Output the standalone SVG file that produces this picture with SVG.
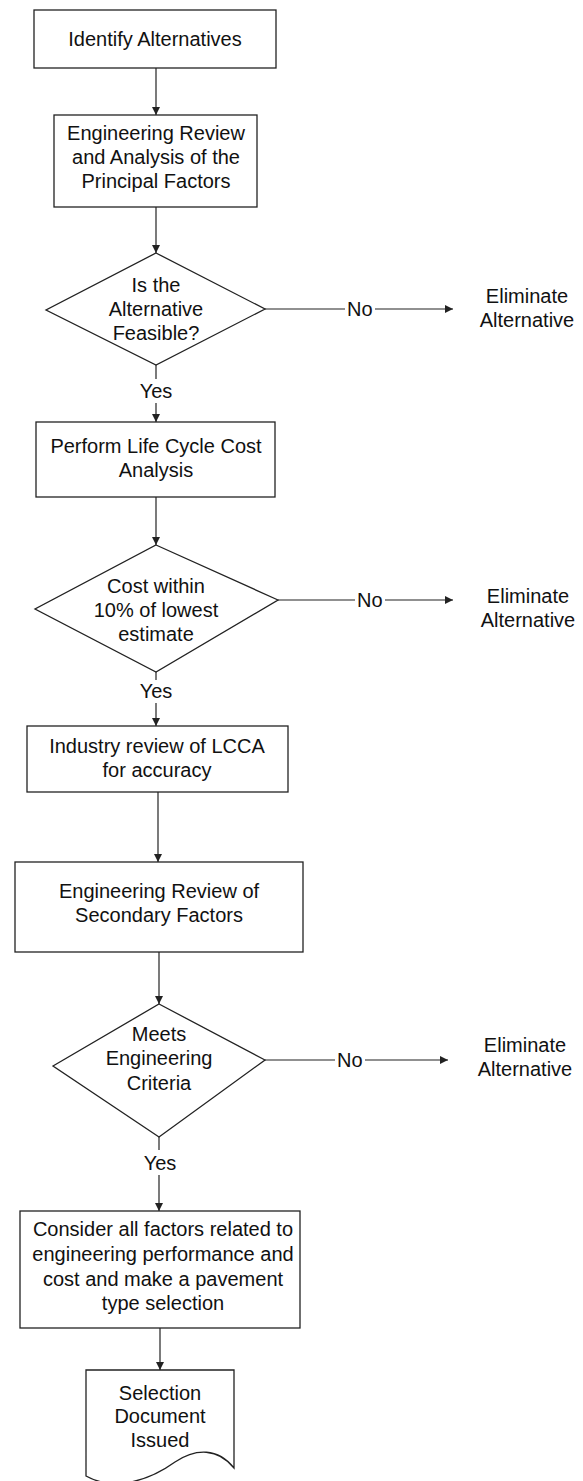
<svg xmlns="http://www.w3.org/2000/svg" width="583" height="1481" viewBox="0 0 583 1481">
  <style>
    .shape { fill: #fff; stroke: #222; stroke-width: 1.3; }
    .edge { fill: none; stroke: #222; stroke-width: 1.2; }
    text { font-family: "Liberation Sans", Arial, sans-serif; font-size: 20px; fill: #111; text-anchor: middle; }
    .lbl { text-anchor: start; }
  </style>
  <defs>
    <marker id="arrow" viewBox="0 0 10 10" refX="10" refY="5" markerWidth="9" markerHeight="8" markerUnits="userSpaceOnUse" orient="auto">
      <path d="M0,0 L10,5 L0,10 Z" fill="#222"/>
    </marker>
  </defs>
  <rect width="583" height="1481" fill="#fff"/>

  <g id="connectors">
    <line class="edge" x1="156" y1="68" x2="156" y2="115" marker-end="url(#arrow)"/>
    <line class="edge" x1="156" y1="207" x2="156" y2="253" marker-end="url(#arrow)"/>
    <line class="edge" x1="156" y1="365" x2="156" y2="379"/>
    <line class="edge" x1="156" y1="403" x2="156" y2="422" marker-end="url(#arrow)"/>
    <line class="edge" x1="265" y1="309" x2="345" y2="309"/>
    <line class="edge" x1="375" y1="309" x2="453" y2="309" marker-end="url(#arrow)"/>
    <line class="edge" x1="156" y1="497" x2="156" y2="545" marker-end="url(#arrow)"/>
    <line class="edge" x1="278" y1="600" x2="355" y2="600"/>
    <line class="edge" x1="385" y1="600" x2="453" y2="600" marker-end="url(#arrow)"/>
    <line class="edge" x1="156" y1="672" x2="156" y2="680"/>
    <line class="edge" x1="156" y1="703" x2="156" y2="726" marker-end="url(#arrow)"/>
    <line class="edge" x1="158" y1="792" x2="158" y2="862" marker-end="url(#arrow)"/>
    <line class="edge" x1="159" y1="952" x2="159" y2="1004" marker-end="url(#arrow)"/>
    <line class="edge" x1="265" y1="1060" x2="335" y2="1060"/>
    <line class="edge" x1="365" y1="1060" x2="448" y2="1060" marker-end="url(#arrow)"/>
    <line class="edge" x1="159" y1="1137" x2="159" y2="1150"/>
    <line class="edge" x1="159" y1="1175" x2="159" y2="1211" marker-end="url(#arrow)"/>
    <line class="edge" x1="160" y1="1328" x2="160" y2="1370" marker-end="url(#arrow)"/>
    <text x="156" y="398">Yes</text>
    <text class="lbl" x="347" y="316">No</text>
    <text x="156" y="698">Yes</text>
    <text class="lbl" x="357" y="607">No</text>
    <text x="160" y="1170">Yes</text>
    <text class="lbl" x="337" y="1067">No</text>
  </g>

  <g id="identify">
    <rect class="shape" x="34" y="10" width="242" height="58"/>
    <text x="155" y="46">Identify Alternatives</text>
  </g>

  <g id="review-principal">
    <rect class="shape" x="54" y="115" width="203" height="92"/>
    <text x="156" y="140">Engineering Review</text>
    <text x="156" y="164">and Analysis of the</text>
    <text x="156" y="188">Principal Factors</text>
  </g>

  <g id="feasible">
    <polygon class="shape" points="156,253 265,309 156,365 46,310"/>
    <text x="156" y="292">Is the</text>
    <text x="156" y="316">Alternative</text>
    <text x="156" y="340">Feasible?</text>
  </g>

  <g id="eliminate-1">
    <text x="527" y="303">Eliminate</text>
    <text x="527" y="327">Alternative</text>
  </g>

  <g id="lcca">
    <rect class="shape" x="36" y="422" width="239" height="75"/>
    <text x="156" y="453">Perform Life Cycle Cost</text>
    <text x="156" y="477">Analysis</text>
  </g>

  <g id="cost-check">
    <polygon class="shape" points="156,545 278,600 156,672 35,609"/>
    <text x="156" y="593">Cost within</text>
    <text x="156" y="617">10% of lowest</text>
    <text x="156" y="641">estimate</text>
  </g>

  <g id="eliminate-2">
    <text x="528" y="603">Eliminate</text>
    <text x="528" y="627">Alternative</text>
  </g>

  <g id="industry-review">
    <rect class="shape" x="27" y="726" width="261" height="66"/>
    <text x="157" y="753">Industry review of LCCA</text>
    <text x="157" y="777">for accuracy</text>
  </g>

  <g id="review-secondary">
    <rect class="shape" x="15" y="862" width="288" height="90"/>
    <text x="159" y="898">Engineering Review of</text>
    <text x="159" y="922">Secondary Factors</text>
  </g>

  <g id="criteria">
    <polygon class="shape" points="159,1004 265,1060 159,1137 53,1066"/>
    <text x="159" y="1041">Meets</text>
    <text x="159" y="1065">Engineering</text>
    <text x="159" y="1090">Criteria</text>
  </g>

  <g id="eliminate-3">
    <text x="525" y="1052">Eliminate</text>
    <text x="525" y="1076">Alternative</text>
  </g>

  <g id="selection">
    <rect class="shape" x="20" y="1211" width="280" height="117"/>
    <text x="163" y="1236">Consider all factors related to</text>
    <text x="163" y="1261">engineering performance and</text>
    <text x="163" y="1286">cost and make a pavement</text>
    <text x="163" y="1310">type selection</text>
  </g>

  <g id="document">
    <path class="shape" d="M86,1370 H234 V1468 C218,1448 196,1448 175,1462 C150,1480 115,1492 86,1476 Z"/>
    <text x="160" y="1400">Selection</text>
    <text x="160" y="1423">Document</text>
    <text x="160" y="1447">Issued</text>
  </g>
</svg>
